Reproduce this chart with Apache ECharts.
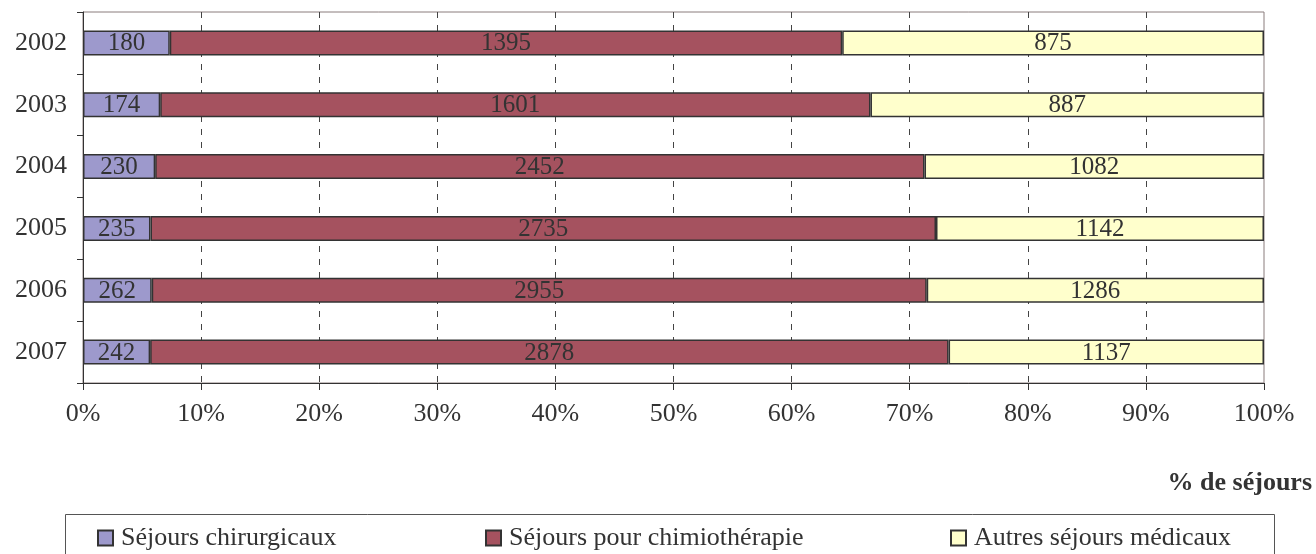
<!DOCTYPE html>
<html>
<head>
<meta charset="utf-8">
<script src="https://cdn.jsdelivr.net/npm/echarts@6/dist/echarts.min.js"></script>
<style>
html,body{margin:0;padding:0;background:#fff;}
#c{width:1316px;height:554px;}
</style>
</head>
<body>
<div id="c"></div>
<script>
const years = ['2002', '2003', '2004', '2005', '2006', '2007'];
const chirurgicaux = [180, 174, 230, 235, 262, 242];
const chimiotherapie = [1395, 1601, 2452, 2735, 2955, 2878];
const autres = [875, 887, 1082, 1142, 1286, 1137];
const seriesNames = ['Séjours chirurgicaux', 'Séjours pour chimiothérapie', 'Autres séjours médicaux'];
const xTicks = [0, 10, 20, 30, 40, 50, 60, 70, 80, 90, 100];

const raw = [chirurgicaux, chimiotherapie, autres];
const totals = years.map((_, i) => raw.reduce((s, arr) => s + arr[i], 0));
const colors = ['#9D99CC', '#A5525F', '#FFFFCC'];
const FONT = '"Liberation Serif", "DejaVu Serif", serif';

const chart = echarts.init(document.getElementById('c'), null, {renderer: 'canvas'});
const series = raw.map((arr, k) => ({
  name: seriesNames[k],
  type: 'bar',
  stack: 'total',
  barWidth: 25,
  data: arr.map((v, i) => ({value: v / totals[i] * 100, raw: v})),
  itemStyle: {color: colors[k], borderColor: '#333', borderWidth: 1.5},
  label: {
    show: true,
    position: 'inside',
    offset: [0, 1],
    formatter: p => String(p.data.raw),
    fontFamily: FONT,
    fontSize: 25,
    color: '#333'
  },
  emphasis: {disabled: true}
}));

const legendLefts = [92, 480, 945];
chart.setOption({
  animation: false,
  backgroundColor: '#fff',
  textStyle: {fontFamily: FONT},
  grid: {left: 83, right: 52, top: 12, bottom: 171, show: true, borderColor: '#8a7c7c', borderWidth: 1, backgroundColor: 'transparent'},
  xAxis: {
    type: 'value',
    min: xTicks[0],
    max: xTicks[xTicks.length - 1],
    interval: xTicks[1] - xTicks[0],
    axisLine: {show: true, lineStyle: {color: '#333', width: 1}},
    axisTick: {show: true, length: 7, lineStyle: {color: '#333'}},
    axisLabel: {formatter: '{value}%', fontFamily: FONT, fontSize: 26, color: '#333', margin: 18},
    splitLine: {show: true, showMinLine: false, showMaxLine: false, lineStyle: {color: '#444', type: [6, 7], width: 1}}
  },
  yAxis: {
    type: 'category',
    inverse: true,
    data: years,
    axisLine: {show: true, lineStyle: {color: '#333', width: 1}},
    axisTick: {show: true, length: 6, lineStyle: {color: '#333'}},
    axisLabel: {fontFamily: FONT, fontSize: 26, color: '#333', margin: 16}
  },
  legend: seriesNames.map((n, k) => ({
    data: [n],
    left: legendLefts[k],
    top: 520,
    icon: 'rect',
    itemWidth: 15,
    itemHeight: 15,
    itemGap: 8,
    textStyle: {fontFamily: FONT, fontSize: 26, color: '#333', padding: [0, 0, 0, 3]},
    selectedMode: false
  })),
  title: {
    text: '% de séjours',
    right: -1,
    top: 465,
    textStyle: {fontFamily: FONT, fontSize: 26, fontWeight: 'bold', color: '#333'}
  },
  graphic: [{
    type: 'rect',
    shape: {x: 65.5, y: 514.5, width: 1209, height: 60},
    style: {fill: 'none', stroke: '#555', lineWidth: 1},
    silent: true
  }],
  series: series
});
</script>
</body>
</html>
